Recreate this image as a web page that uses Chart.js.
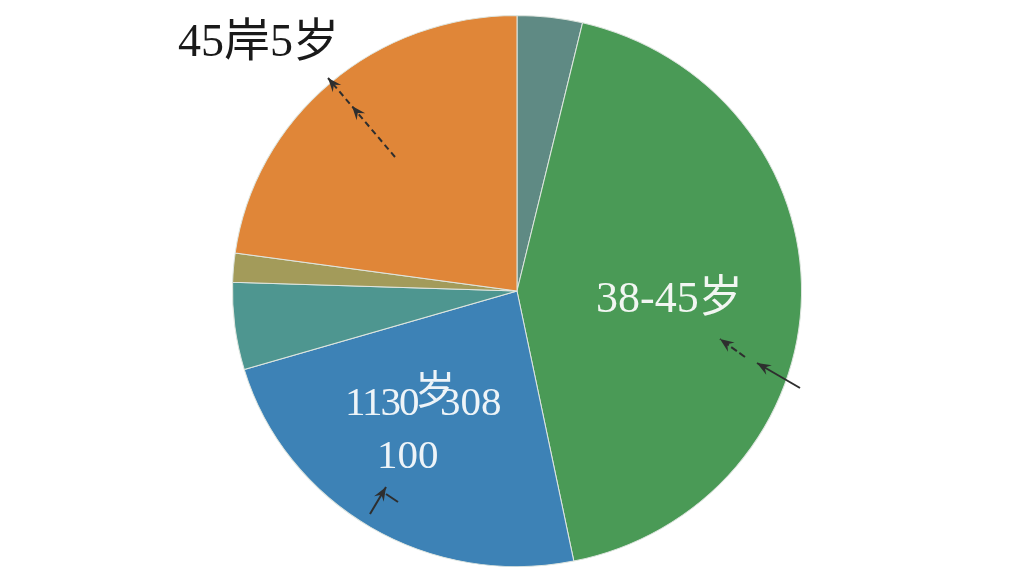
<!DOCTYPE html>
<html lang="zh">
<head>
<meta charset="utf-8">
<title>年龄分布饼图</title>
<script src="https://cdn.jsdelivr.net/npm/chart.js@4.4.1/dist/chart.umd.min.js"></script>
<style>
    html, body { margin: 0; padding: 0; background: #ffffff; }
    .chart-wrap { width: 1024px; height: 576px; position: relative; }
</style>
</head>
<body>
<div class="chart-wrap">
    <canvas id="ageChart"></canvas>
</div>
<script>
// Slices in clockwise order, starting at 12 o'clock
const categories = ['其他', '38-45岁', '1130岁308 100', '其他2', '其他3', '45岸5岁'];
const shares = [3.7, 43.1, 23.6, 5.1, 1.7, 22.8];
const sliceColors = ['#5f8a84', '#4a9a56', '#3d82b6', '#4e9690', '#a39b5a', '#e08638'];

// The reference pie is slightly wider than tall
const stretchPlugin = {
    id: 'stretchPlugin',
    beforeDatasetsDraw(chart) {
        const meta = chart.getDatasetMeta(0);
        const arc = meta.data[0];
        const ctx = chart.ctx;
        ctx.save();
        ctx.translate(arc.x, arc.y);
        ctx.scale(1.018, 0.986);
        ctx.translate(-arc.x, -arc.y);
    },
    afterDatasetsDraw(chart) {
        chart.ctx.restore();
    }
};

// Hand-placed text labels and arrows, as in the reference picture
const labelPlugin = {
    id: 'labelPlugin',
    afterDraw(chart) {
        const ctx = chart.ctx;
        ctx.save();
        ctx.textBaseline = 'alphabetic';
        ctx.textAlign = 'left';

        ctx.fillStyle = '#1a1a1a';
        ctx.font = '46px "Liberation Serif", "Noto Sans CJK SC", serif';
        ctx.fillText('45岸5岁', 178, 56);

        ctx.fillStyle = '#f2f6f2';
        ctx.font = '44px "Liberation Serif", "Noto Sans CJK SC", serif';
        ctx.fillText('38-45岁', 596, 312);

        ctx.fillStyle = '#eef4f8';
        ctx.font = '41px "Liberation Serif", "Noto Sans CJK SC", serif';
        ctx.letterSpacing = '-2px';
        ctx.fillText('1130', 345, 415);
        ctx.letterSpacing = '0px';
        ctx.fillText('308', 440, 415);
        ctx.fillText('100', 377, 468);
        ctx.font = '40px "Noto Sans CJK SC", sans-serif';
        ctx.fillText('岁', 415, 404);

        ctx.strokeStyle = '#2e2e2e';
        ctx.fillStyle = '#2e2e2e';
        ctx.lineWidth = 2;

        drawArrow(ctx, 395, 157, 328, 78, [6, 4]);
        drawHead(ctx, 372, 130, 352, 106);
        drawArrow(ctx, 800, 388, 757, 363, []);
        drawArrow(ctx, 745, 357, 720, 339, [7, 3]);
        drawArrow(ctx, 370, 514, 386, 487, []);
        ctx.beginPath();
        ctx.moveTo(386, 494);
        ctx.lineTo(398, 502);
        ctx.stroke();

        ctx.restore();
    }
};

function drawHead(ctx, x1, y1, x2, y2) {
    const ang = Math.atan2(y2 - y1, x2 - x1);
    const len = 15;
    ctx.beginPath();
    ctx.moveTo(x2, y2);
    ctx.lineTo(x2 - len * Math.cos(ang - 0.38), y2 - len * Math.sin(ang - 0.38));
    ctx.lineTo(x2 - len * 0.6 * Math.cos(ang), y2 - len * 0.6 * Math.sin(ang));
    ctx.lineTo(x2 - len * Math.cos(ang + 0.38), y2 - len * Math.sin(ang + 0.38));
    ctx.closePath();
    ctx.fill();
}

function drawArrow(ctx, x1, y1, x2, y2, dash) {
    ctx.beginPath();
    ctx.setLineDash(dash);
    ctx.moveTo(x1, y1);
    ctx.lineTo(x2, y2);
    ctx.stroke();
    ctx.setLineDash([]);
    drawHead(ctx, x1, y1, x2, y2);
}

document.addEventListener('DOMContentLoaded', function() {
    const ageCtx = document.getElementById('ageChart');
    new Chart(ageCtx, {
        type: 'pie',
        data: {
            labels: categories,
            datasets: [{
                data: shares,
                backgroundColor: sliceColors,
                borderColor: '#dfe6e0',
                borderWidth: 1
            }]
        },
        options: {
            responsive: true,
            maintainAspectRatio: false,
            animation: false,
            layout: {
                padding: { left: 10, right: 0, top: 11, bottom: 5 }
            },
            plugins: {
                legend: { display: false },
                tooltip: { enabled: false }
            }
        },
        plugins: [stretchPlugin, labelPlugin]
    });
});
</script>
</body>
</html>
